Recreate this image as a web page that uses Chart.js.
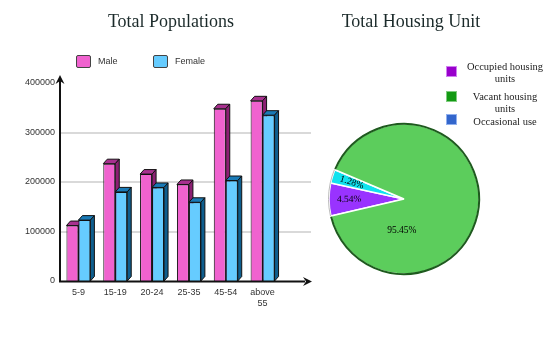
<!DOCTYPE html>
<html>
<head>
<meta charset="utf-8">
<script src="https://cdn.jsdelivr.net/npm/chart.js@4.4.1/dist/chart.umd.min.js"></script>
<style>
html,body{margin:0;padding:0;background:#fff;width:550px;height:350px;overflow:hidden;}
#wrap{position:relative;width:550px;height:350px;}
canvas{position:absolute;top:0;}
.title{position:absolute;top:11px;width:200px;font-family:"Liberation Serif",serif;font-size:18px;line-height:21px;color:#1b2a2a;text-align:center;white-space:nowrap;}
.lgA{position:absolute;font-family:"Liberation Sans",Arial,sans-serif;font-size:9px;color:#333;line-height:13px;white-space:nowrap;}
.lgA .sw{position:absolute;left:0;top:0;width:13px;height:11px;border:1px solid #444;border-radius:2px;}
.lgA .tx{position:absolute;left:22px;top:0;}
.lgB{position:absolute;font-family:"Liberation Serif",serif;font-size:10.5px;line-height:11.5px;color:#222;text-align:center;width:90px;}
.swB{position:absolute;width:9px;height:9px;border:1px solid;}
</style>
</head>
<body>
<div id="wrap">
  <canvas id="pop" width="320" height="350" style="left:0"></canvas>
  <canvas id="house" width="230" height="350" style="left:320px"></canvas>
  <div class="title" style="left:71px">Total Populations</div>
  <div class="title" style="left:311px">Total Housing Unit</div>
</div>
<script>
// ---------- data ----------
const ageGroups = ['5-9', '15-19', '20-24', '25-35', '45-54', ['above', '55']];
const maleValues = [112000, 237000, 216000, 195000, 348000, 364000];
const femaleValues = [123000, 180000, 189000, 159000, 203000, 335000];
const popTicks = [0, 100000, 200000, 300000, 400000];
const popSeries = ['Male', 'Female'];

// pie slices in drawing (clockwise) order
const housingCategories = ['Occupied housing units', 'Occasional use', 'Vacant housing units'];
const housingShares = [7.06, 2.94, 90.0];          // slice sizes as drawn
const housingPercentText = ['4.54%', '1.28%', '95.45%']; // printed labels
const housingLegendOrder = ['Occupied housing units', 'Vacant housing units', 'Occasional use'];

// ---------- styles ----------
const popColors = {
  Male:   {front:'#F062CF', top:'#A8308F', side:'#8C1F73'},
  Female: {front:'#66CCFF', top:'#1A7AB6', side:'#0E5E8E'}
};
const sliceColors = {'Occupied housing units':'#9933FF', 'Occasional use':'#11E2EE', 'Vacant housing units':'#5CCD5C'};
const legendColors = {
  'Occupied housing units':{fill:'#9900CC', edge:'#D080F0'},
  'Vacant housing units':{fill:'#139913', edge:'#80CC80'},
  'Occasional use':{fill:'#3366CC', edge:'#90B0EE'}
};

// ---------- legends (HTML) ----------
const wrap = document.getElementById('wrap');
popSeries.forEach((name, i) => {
  const d = document.createElement('div');
  d.className = 'lgA';
  d.style.left = (76 + i * 77) + 'px';
  d.style.top = '55px';
  d.innerHTML = '<span class="sw" style="background:' + popColors[name].front + '"></span><span class="tx">' + name + '</span>';
  wrap.appendChild(d);
});
const legendTops = [61, 91, 116];
const boxTops = [66, 91, 114];
housingLegendOrder.forEach((name, i) => {
  const sw = document.createElement('div');
  sw.className = 'swB';
  sw.style.left = '446px';
  sw.style.top = boxTops[i] + 'px';
  sw.style.background = legendColors[name].fill;
  sw.style.borderColor = legendColors[name].edge;
  wrap.appendChild(sw);
  const t = document.createElement('div');
  t.className = 'lgB';
  t.style.left = '460px';
  t.style.top = legendTops[i] + 'px';
  const parts = name.split(' ');
  t.innerHTML = parts.length > 2 ? parts.slice(0, 2).join(' ') + '<br>' + parts.slice(2).join(' ') : name;
  wrap.appendChild(t);
});

// ---------- bar chart ----------
const DX = 4, DY = 4.5;
function draw3D(ctx, el, col) {
  const l = el.x - el.width / 2, r = el.x + el.width / 2, t = el.y, b = el.base;
  ctx.lineWidth = 1;
  ctx.strokeStyle = '#111';
  ctx.lineJoin = 'round';
  // top face
  ctx.beginPath();
  ctx.moveTo(l, t); ctx.lineTo(l + DX, t - DY); ctx.lineTo(r + DX, t - DY); ctx.lineTo(r, t); ctx.closePath();
  ctx.fillStyle = col.top; ctx.fill(); ctx.stroke();
  // side face
  ctx.beginPath();
  ctx.moveTo(r, t); ctx.lineTo(r + DX, t - DY); ctx.lineTo(r + DX, b - DY); ctx.lineTo(r, b); ctx.closePath();
  ctx.fillStyle = col.side; ctx.fill(); ctx.stroke();
}
function arrow(ctx, tx, ty, dirx, diry) {
  const len = 9, half = 4.5, notch = 6;
  const px = -diry, py = dirx;
  ctx.beginPath();
  ctx.moveTo(tx, ty);
  ctx.lineTo(tx - dirx * len + px * half, ty - diry * len + py * half);
  ctx.lineTo(tx - dirx * notch, ty - diry * notch);
  ctx.lineTo(tx - dirx * len - px * half, ty - diry * len - py * half);
  ctx.closePath();
  ctx.fill();
}
const barDecor = {
  id: 'barDecor',
  beforeDatasetsDraw(chart) {
    const {ctx, chartArea, scales: {y}} = chart;
    ctx.save();
    ctx.strokeStyle = '#D9D9D9';
    ctx.lineWidth = 2;
    popTicks.slice(1, -1).forEach(v => {
      const py = Math.round(y.getPixelForValue(v));
      ctx.beginPath();
      ctx.moveTo(chartArea.left + 1, py);
      ctx.lineTo(chartArea.right + 30, py);
      ctx.stroke();
    });
    ctx.restore();
  },
  afterDatasetsDraw(chart) {
    const {ctx, chartArea} = chart;
    ctx.save();
    const mMeta = chart.getDatasetMeta(0), fMeta = chart.getDatasetMeta(1);
    mMeta.data.forEach(el => draw3D(ctx, el, popColors.Male));
    fMeta.data.forEach(el => { el.draw(ctx); draw3D(ctx, el, popColors.Female); });
    // axes with arrows
    const x0 = chartArea.left, y0 = Math.round(chartArea.bottom) + 0.5;
    ctx.strokeStyle = '#111'; ctx.fillStyle = '#111'; ctx.lineWidth = 2;
    ctx.beginPath(); ctx.moveTo(x0, y0); ctx.lineTo(x0, chartArea.top - 4); ctx.stroke();
    ctx.beginPath(); ctx.moveTo(x0 - 1, y0); ctx.lineTo(chartArea.right + 24, y0); ctx.stroke();
    arrow(ctx, x0, chartArea.top - 8, 0, -1);
    arrow(ctx, chartArea.right + 31, y0, 1, 0);
    ctx.restore();
  }
};

new Chart(document.getElementById('pop'), {
  type: 'bar',
  data: {
    labels: ageGroups,
    datasets: [
      {label: popSeries[0], data: maleValues, backgroundColor: popColors.Male.front, borderColor: '#111', borderWidth: 1,
       categoryPercentage: 0.65, barPercentage: 1},
      {label: popSeries[1], data: femaleValues, backgroundColor: popColors.Female.front, borderColor: '#111', borderWidth: 1,
       categoryPercentage: 0.65, barPercentage: 1}
    ]
  },
  options: {
    responsive: false,
    animation: false,
    layout: {padding: {left: 0, right: 39, top: 83, bottom: 0}},
    plugins: {legend: {display: false}, title: {display: false}, tooltip: {enabled: false}},
    scales: {
      x: {
        grid: {display: false, drawTicks: false},
        border: {display: false},
        ticks: {font: {family: 'Liberation Sans', size: 9, lineHeight: 1.2}, color: '#333', padding: 6, maxRotation: 0, autoSkip: false},
        afterFit: s => { s.height = 69; }
      },
      y: {
        min: 0, max: 400000,
        afterBuildTicks: s => { s.ticks = popTicks.map(v => ({value: v})); },
        grid: {display: false, drawTicks: false},
        border: {display: false},
        ticks: {font: {family: 'Liberation Sans', size: 9}, color: '#333', padding: 5, callback: v => String(v)},
        afterFit: s => { s.width = 60; }
      }
    }
  },
  plugins: [barDecor]
});

// ---------- pie chart ----------
const pieDecor = {
  id: 'pieDecor',
  afterDatasetsDraw(chart) {
    const {ctx} = chart;
    const meta = chart.getDatasetMeta(0);
    ctx.save();
    meta.data.forEach((el, i) => {
      const name = housingCategories[i];
      if (name === 'Vacant housing units') {
        ctx.beginPath();
        ctx.arc(el.x, el.y, el.outerRadius, el.startAngle + 0.01, el.endAngle - 0.01);
        ctx.strokeStyle = '#1E5A1E'; ctx.lineWidth = 2; ctx.stroke();
      } else {
        ctx.beginPath();
        ctx.arc(el.x, el.y, el.outerRadius + 0.5, el.startAngle, el.endAngle);
        ctx.strokeStyle = '#BBBBBB'; ctx.lineWidth = 1; ctx.stroke();
      }
    });
    ctx.font = '9.5px "Liberation Serif"';
    ctx.fillStyle = '#000';
    ctx.textAlign = 'center';
    ctx.textBaseline = 'middle';
    meta.data.forEach((el, i) => {
      const name = housingCategories[i];
      let ang, rad, rot;
      if (name === 'Vacant housing units') {
        ang = 94 * Math.PI / 180; rad = el.outerRadius * 0.42; rot = 0;
      } else {
        ang = (el.startAngle + el.endAngle) / 2; rad = el.outerRadius * 0.73; rot = ang - Math.PI;
      }
      ctx.save();
      ctx.translate(el.x + Math.cos(ang) * rad, el.y + Math.sin(ang) * rad);
      ctx.rotate(rot);
      ctx.fillText(housingPercentText[i], 0, 0);
      ctx.restore();
    });
    ctx.restore();
  }
};

new Chart(document.getElementById('house'), {
  type: 'pie',
  data: {
    labels: housingCategories,
    datasets: [{
      data: housingShares,
      backgroundColor: housingCategories.map(c => sliceColors[c]),
      borderColor: '#FFFFFF',
      borderWidth: 1.5
    }]
  },
  options: {
    responsive: false,
    animation: false,
    rotation: 256.9,
    radius: 75,
    layout: {padding: {left: 4, right: 66, top: 119, bottom: 71}},
    plugins: {legend: {display: false}, tooltip: {enabled: false}, title: {display: false}}
  },
  plugins: [pieDecor]
});
</script>
</body>
</html>
